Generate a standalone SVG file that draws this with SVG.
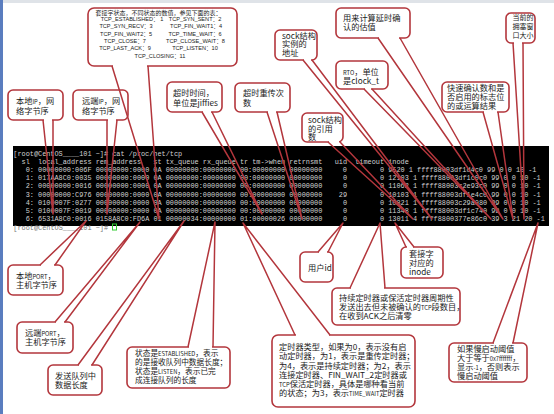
<svg xmlns="http://www.w3.org/2000/svg" width="554" height="414" viewBox="0 0 554 414">
<style>
.box{fill:#fff;stroke:#b3363c;stroke-width:1.6}
.tail{fill:none;stroke:#b3363c;stroke-width:1.5;stroke-linejoin:round}
.gap{stroke:#fff;stroke-width:3.2}
.t{font-family:'Noto Sans CJK SC','Liberation Sans',sans-serif;font-size:8.2px;fill:#1a1a1a}
.s{font-size:5.8px}
.st{font-family:'Liberation Sans','Noto Sans CJK SC',sans-serif;font-size:5.6px;fill:#1a1a1a}
.term{font-family:'Liberation Mono',monospace;font-size:8px;fill:#d2d2d2;white-space:pre}
</style>
<rect x="0" y="0" width="554" height="414" fill="#fff"/>
<rect x="0" y="0" width="554" height="3" fill="#dfe3e8"/>
<rect x="0" y="0" width="3" height="414" fill="#5a7dbf"/>

<g id="terminal">
<rect x="13" y="146" width="536" height="80" fill="#000"/>
<text class="term" xml:space="preserve" x="13.3" y="155.5" textLength="168.9" lengthAdjust="spacingAndGlyphs">[root@CentOS____101 ~]# cat /proc/net/tcp</text>
<text class="term" xml:space="preserve" x="13.3" y="163.7" textLength="395.5" lengthAdjust="spacingAndGlyphs">  sl  local_address rem_address   st tx_queue rx_queue tr tm-&gt;when retrnsmt   uid  timeout inode</text>
<text class="term" xml:space="preserve" x="13.3" y="171.9" textLength="523.2" lengthAdjust="spacingAndGlyphs">   0: 00000000:006F 00000000:0000 0A 00000000:00000000 00:00000000 00000000     0        0 9520 1 ffff88003df1d4c0 99 0 0 10 -1</text>
<text class="term" xml:space="preserve" x="13.3" y="180.2" textLength="527.4" lengthAdjust="spacingAndGlyphs">   1: 017AA8C0:0035 00000000:0000 0A 00000000:00000000 00:00000000 00000000     0        0 12103 1 ffff88003df1c0c0 99 0 0 10 -1</text>
<text class="term" xml:space="preserve" x="13.3" y="188.4" textLength="527.4" lengthAdjust="spacingAndGlyphs">   2: 00000000:0016 00000000:0000 0A 00000000:00000000 00:00000000 00000000     0        0 11062 1 ffff88003c2e93c0 99 0 0 10 -1</text>
<text class="term" xml:space="preserve" x="13.3" y="196.6" textLength="527.4" lengthAdjust="spacingAndGlyphs">   3: 00000000:C976 00000000:0000 0A 00000000:00000000 00:00000000 00000000    29        0 10103 1 ffff88003df1e4c0 99 0 0 10 -1</text>
<text class="term" xml:space="preserve" x="13.3" y="204.8" textLength="527.4" lengthAdjust="spacingAndGlyphs">   4: 0100007F:0277 00000000:0000 0A 00000000:00000000 00:00000000 00000000     0        0 10821 1 ffff88003c29a080 99 0 0 10 -1</text>
<text class="term" xml:space="preserve" x="13.3" y="213.0" textLength="527.4" lengthAdjust="spacingAndGlyphs">   5: 0100007F:0019 00000000:0000 0A 00000000:00000000 00:00000000 00000000     0        0 11348 1 ffff88003df1c740 99 0 0 10 -1</text>
<text class="term" xml:space="preserve" x="13.3" y="221.3" textLength="531.5" lengthAdjust="spacingAndGlyphs">   6: 6531A8C0:0016 0158A8C0:FD6A 01 00000034:00000000 01:00000026 00000000     0        0 13011 4 ffff8800377e86c0 39 3 21 20 -1</text>
<text class="term" xml:space="preserve" x="13.3" y="230" textLength="94.8" lengthAdjust="spacingAndGlyphs" style="fill:#777">[root@CentOS____101 ~]#</text>
<rect x="112.5" y="224" width="4" height="6" fill="none" stroke="#3c3" stroke-width="1"/>
</g>

<g id="state">
<rect class="box" x="88" y="8" width="149" height="58" rx="6"/>
<text class="t" x="158.5" y="14.5" text-anchor="middle" style="font-size:6px">套接字状态，不同状态的数值，参见下面的表：</text>
<g class="st" text-anchor="middle">
<text x="132" y="20.5">TCP_ESTABLISHED： 1</text><text x="195" y="20.5">TCP_SYN_SENT：2</text>
<text x="126" y="28">TCP_SYN_RECV：3</text><text x="196" y="28">TCP_FIN_WAIT1：4</text>
<text x="126" y="35.5">TCP_FIN_WAIT2：5</text><text x="195" y="35.5">TCP_TIME_WAIT：6</text>
<text x="125" y="43">TCP_CLOSE：7</text><text x="195.5" y="43">TCP_CLOSE_WAIT：8</text>
<text x="125" y="50">TCP_LAST_ACK：9</text><text x="195" y="50">TCP_LISTEN：10</text>
<text x="160" y="57.5">TCP_CLOSING：11</text>
</g>
</g>

<g id="local-ip"><rect class="box" x="8" y="90" width="55" height="30" rx="5"/>
<text class="t" x="16" y="104">本地<tspan class="s">IP</tspan>，网</text><text class="t" x="16" y="114">络字节序</text></g>
<g id="remote-ip"><rect class="box" x="73" y="90" width="55" height="30" rx="5"/>
<text class="t" x="82" y="104">远端<tspan class="s">IP</tspan>，网</text><text class="t" x="82" y="114">络字节序</text></g>
<g id="timeout-jiffies"><rect class="box" x="167" y="82" width="55" height="30" rx="5"/>
<text class="t" x="173" y="96">超时时间，</text><text class="t" x="173" y="105.5">单位是jiffies</text></g>
<g id="retrans-count"><rect class="box" x="235" y="83" width="55" height="29" rx="5"/>
<text class="t" x="243" y="96">超时重传次</text><text class="t" x="243" y="105.5">数</text></g>
<g id="sock-addr"><rect class="box" x="275" y="30" width="42" height="30" rx="5"/>
<text class="t" x="282" y="38.5">sock结构</text><text class="t" x="282" y="47">实例的</text><text class="t" x="282" y="56">地址</text></g>
<g id="sock-ref"><rect class="box" x="302" y="113" width="41" height="29" rx="5"/>
<text class="t" x="308" y="123">sock结构</text><text class="t" x="308" y="131.5">的引用</text><text class="t" x="308" y="140">数</text></g>
<g id="ato"><rect class="box" x="336" y="8" width="74" height="30" rx="5"/>
<text class="t" x="343" y="21">用来计算延时确</text><text class="t" x="343" y="30">认的估值</text></g>
<g id="rto"><rect class="box" x="336" y="61" width="52" height="28" rx="5"/>
<text class="t" x="343" y="75"><tspan class="s">RTO</tspan>，单位</text><text class="t" x="343" y="84">是clock_t</text></g>
<g id="cwnd"><rect class="box" x="506" y="13" width="29" height="30" rx="5"/>
<text class="t" x="512.5" y="20" style="font-size:7px">当前的</text><text class="t" x="512.5" y="28.5" style="font-size:7px">拥塞窗</text><text class="t" x="512.5" y="38" style="font-size:7px">口大小</text></g>
<g id="quick-ack"><rect class="box" x="442" y="82" width="67" height="30" rx="5"/>
<text class="t" x="447" y="91">快速确认数和是</text><text class="t" x="447" y="100">否启用的标志位</text><text class="t" x="447" y="109">的或运算结果</text></g>

<g id="local-port"><rect class="box" x="8" y="265" width="55" height="30" rx="5"/>
<text class="t" x="16" y="278.5">本地<tspan class="s">PORT</tspan>，</text><text class="t" x="16" y="287.5">主机字节序</text></g>
<g id="remote-port"><rect class="box" x="17" y="322" width="56" height="31" rx="5"/>
<text class="t" x="25" y="335.5">远端<tspan class="s">PORT</tspan>，</text><text class="t" x="25" y="344.5">主机字节序</text></g>
<g id="tx-queue"><rect class="box" x="48" y="365" width="54" height="30" rx="5"/>
<text class="t" x="55" y="378.5">发送队列中</text><text class="t" x="55" y="387.5">数据长度</text></g>
<g id="rx-queue"><rect class="box" x="127" y="347" width="103" height="41" rx="5"/>
<text class="t" x="135" y="356" style="font-size:7.7px">状态是<tspan class="s">ESTABLISHED</tspan>，表示</text>
<text class="t" x="135" y="365" style="font-size:7.7px">的是接收队列中数据长度；</text>
<text class="t" x="135" y="374" style="font-size:7.7px">状态是<tspan class="s">LISTEN</tspan>，表示已完</text>
<text class="t" x="135" y="383" style="font-size:7.7px">成连接队列的长度</text></g>
<g id="uid"><rect class="box" x="300" y="252" width="33" height="30" rx="5"/>
<text class="t" x="308" y="271">用户id</text></g>
<g id="inode"><rect class="box" x="401" y="247" width="42" height="31" rx="5"/>
<text class="t" x="409" y="256.5">套接字</text><text class="t" x="409" y="266">对应的</text><text class="t" x="409" y="275">inode</text></g>
<g id="unacked"><rect class="box" x="332" y="288" width="128" height="37" rx="5"/>
<text class="t" x="339" y="301">持续定时器或保活定时器周期性</text>
<text class="t" x="339" y="310">发送出去但未被确认的<tspan class="s">TCP</tspan>段数目，</text>
<text class="t" x="339" y="319">在收到ACK之后清零</text></g>
<g id="timer-type"><rect class="box" x="272" y="335" width="143" height="72" rx="6"/>
<text class="t" x="279" y="350">定时器类型，如果为0，表示没有启</text>
<text class="t" x="279" y="359">动定时器，为1，表示是重传定时器；</text>
<text class="t" x="279" y="368.5">为4，表示是持续定时器；为2，表示</text>
<text class="t" x="279" y="378">连接定时器、FIN_WAIT_2定时器或</text>
<text class="t" x="279" y="387"><tspan class="s">TCP</tspan>保活定时器，具体是哪种看当前</text>
<text class="t" x="279" y="396">的状态；为3，表示<tspan class="s">TIME_WAIT</tspan>定时器</text></g>
<g id="ssthresh"><rect class="box" x="449" y="343" width="78" height="39" rx="5"/>
<text class="t" x="457" y="352">如果慢启动阈值</text>
<text class="t" x="457" y="361">大于等于<tspan class="s">0x7fffffff</tspan>，</text>
<text class="t" x="457" y="370">显示<tspan class="s">-1</tspan>，否则表示</text>
<text class="t" x="457" y="378.5">慢启动阈值</text></g>

<g id="connectors">
<line class="gap" x1="113" y1="66" x2="147" y2="66"/><path class="tail" d="M112,66 L159,219 L148,66"/>
<line class="gap" x1="44" y1="120" x2="52" y2="120"/><path class="tail" d="M43,120 L53,214 L53,120"/>
<line class="gap" x1="108" y1="120" x2="116" y2="120"/><path class="tail" d="M107,120 L107,214 L117,120"/>
<line class="gap" x1="203" y1="112" x2="211" y2="112"/><path class="tail" d="M202,112 L262,214 L212,112"/>
<line class="gap" x1="268" y1="112" x2="276" y2="112"/><path class="tail" d="M267,112 L302,219 L277,112"/>
<line class="gap" x1="304" y1="60" x2="311" y2="60"/><path class="tail" d="M303,60 L432,219 L312,60"/>
<line class="gap" x1="329" y1="142" x2="339" y2="142"/><path class="tail" d="M328,142 L413,219 L340,142"/>
<line class="gap" x1="379" y1="38" x2="399" y2="38"/><path class="tail" d="M378,38 L503,219 L400,38"/>
<line class="gap" x1="365" y1="89" x2="371" y2="89"/><path class="tail" d="M364,89 L491,219 L372,89"/>
<line class="gap" x1="514" y1="43" x2="522" y2="43"/><path class="tail" d="M513,43 L524,219 L523,43"/>
<line class="gap" x1="484" y1="112" x2="497" y2="112"/><path class="tail" d="M483,112 L513,219 L498,112"/>
<line class="gap" x1="41" y1="265" x2="54" y2="265"/><path class="tail" d="M40,265 L86,221 L55,265"/>
<line class="gap" x1="56" y1="322" x2="64" y2="322"/><path class="tail" d="M55,322 L140,222 L65,322"/>
<line class="gap" x1="79" y1="365" x2="91" y2="365"/><path class="tail" d="M78,365 L184,221 L92,365"/>
<line class="gap" x1="189" y1="347" x2="212" y2="347"/><path class="tail" d="M188,347 L215,222 L213,347"/>
<line class="gap" x1="319" y1="252" x2="327" y2="252"/><path class="tail" d="M318,252 L343,223 L328,252"/>
<line class="gap" x1="407" y1="247" x2="413" y2="247"/><path class="tail" d="M406,247 L395,223 L414,247"/>
<line class="gap" x1="351" y1="288" x2="384" y2="288"/><path class="tail" d="M350,288 L380,223 L385,288"/>
<line class="gap" x1="296" y1="335" x2="329" y2="335"/><path class="tail" d="M295,335 L243,223 L330,335"/>
<line class="gap" x1="494" y1="343" x2="512" y2="343"/><path class="tail" d="M493,343 L538,223 L513,343"/>
</g>
</svg>
